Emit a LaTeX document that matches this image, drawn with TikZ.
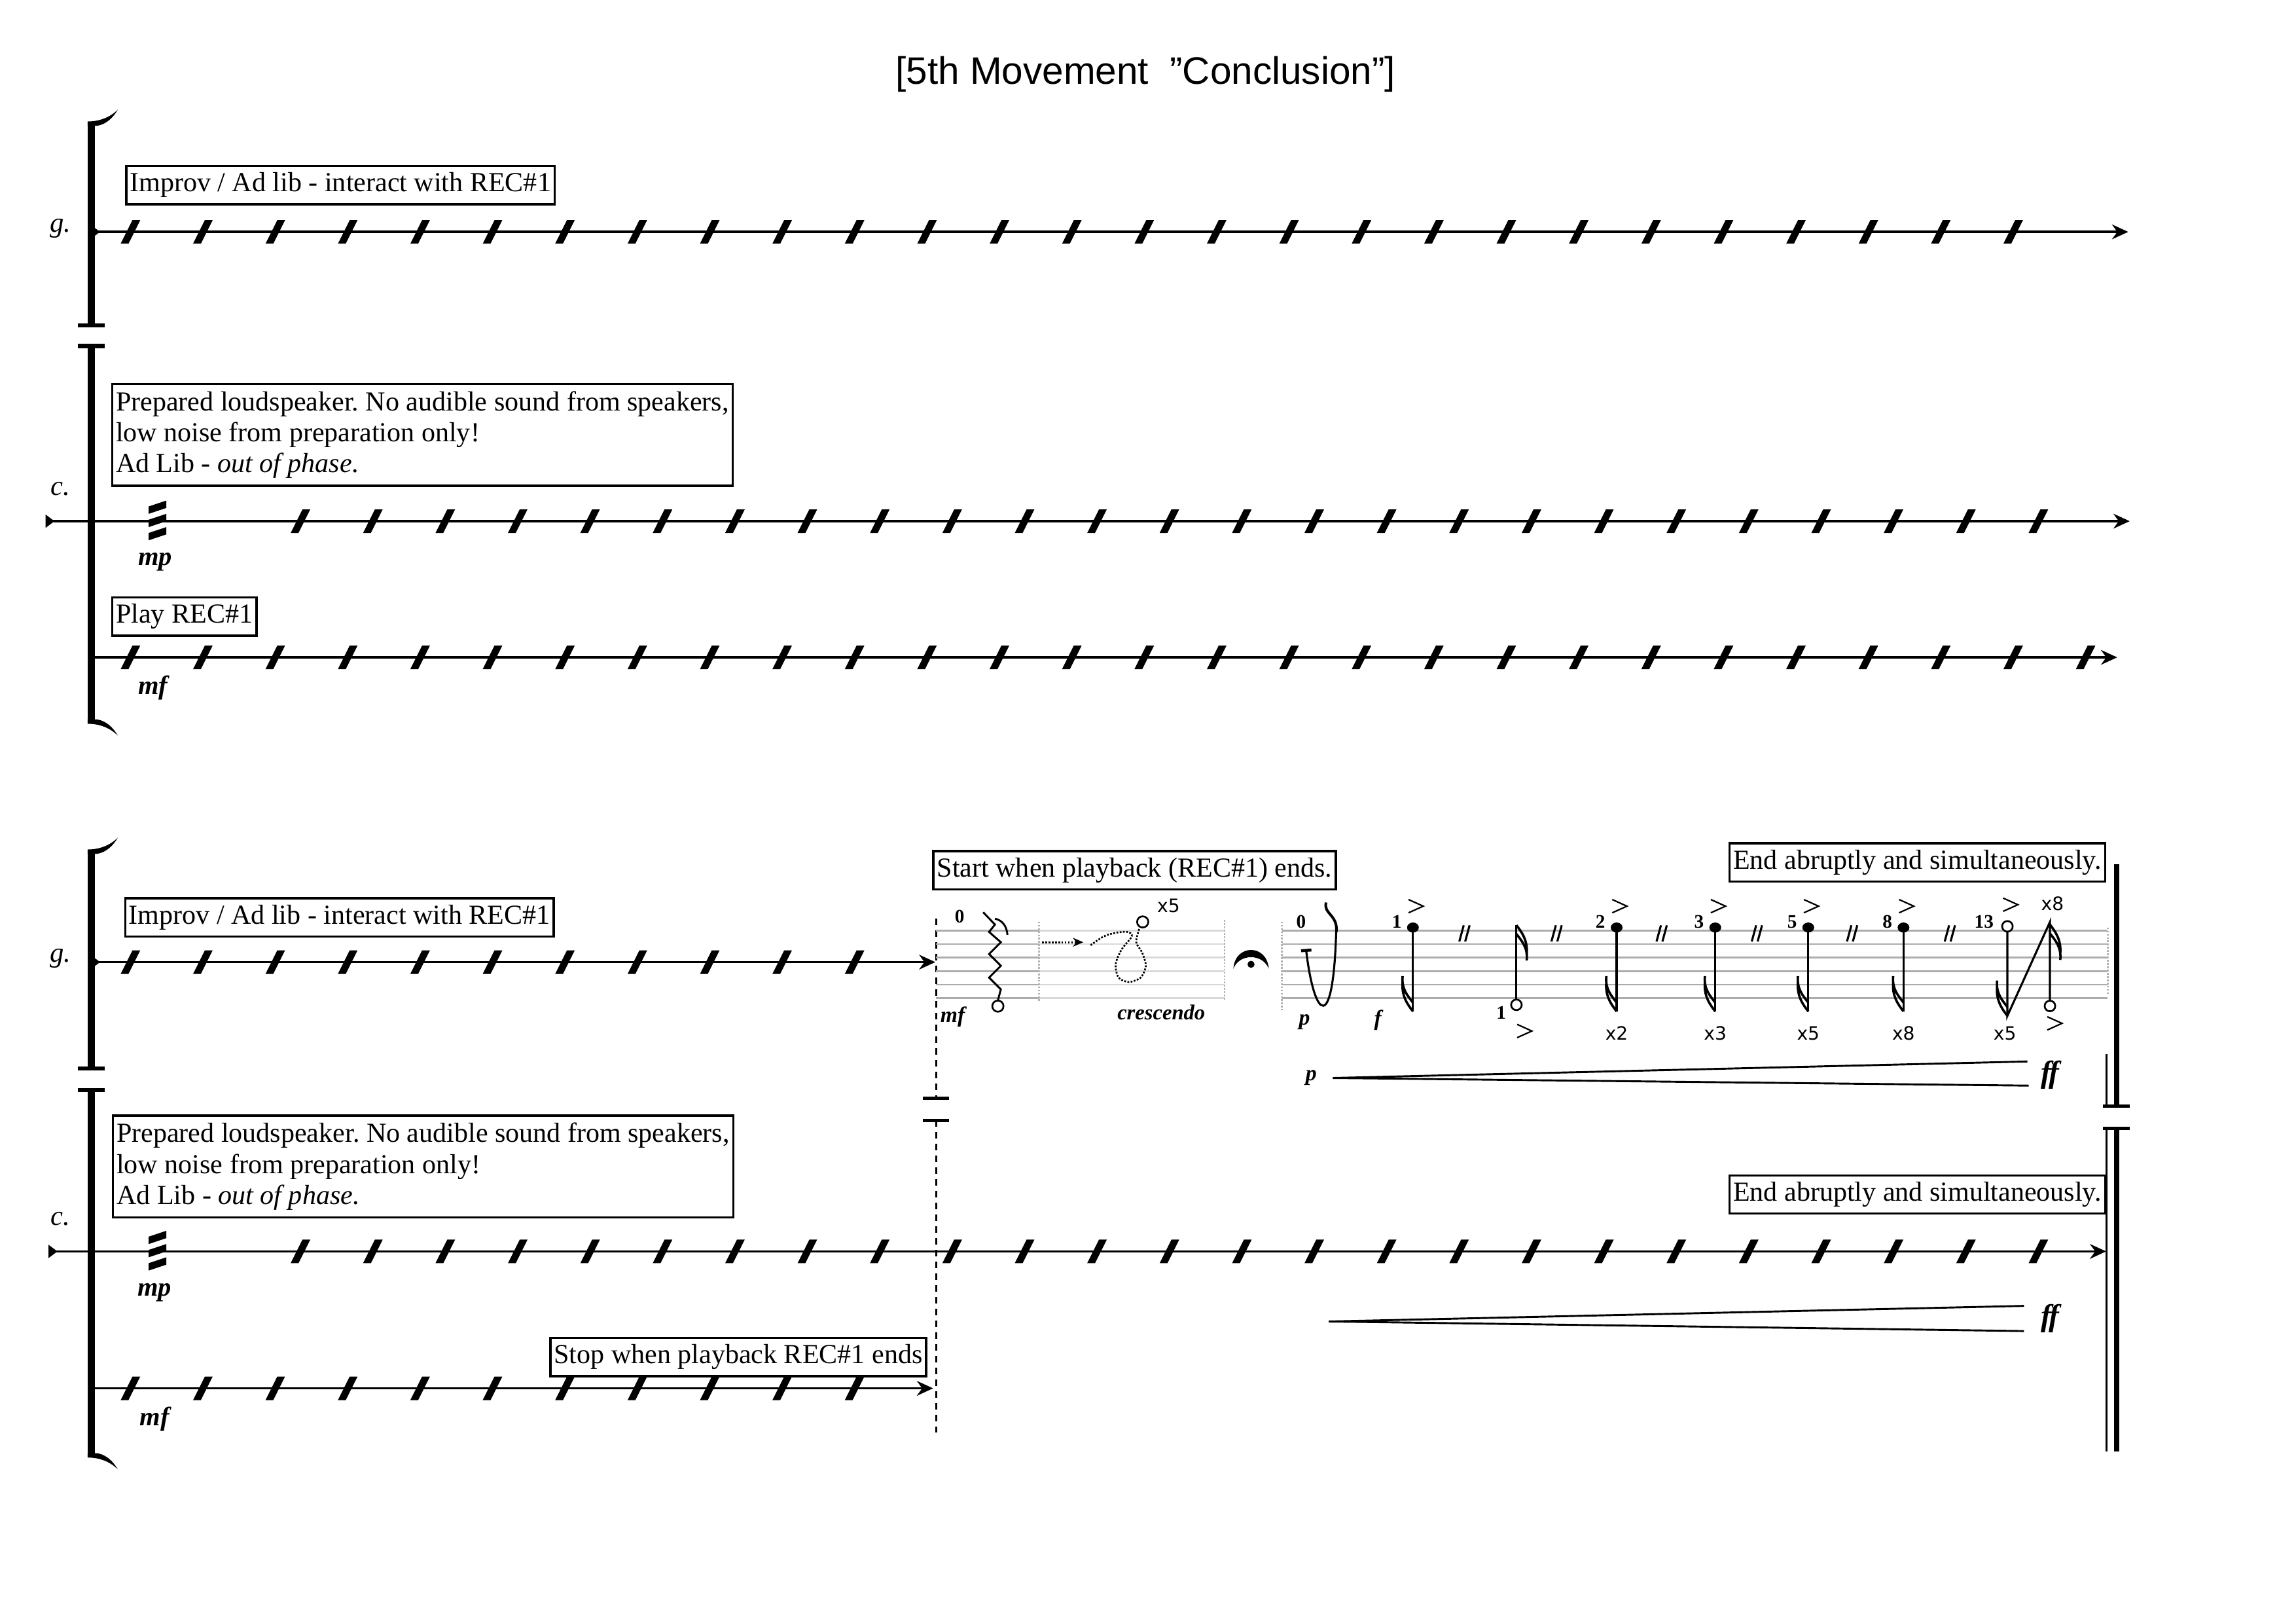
\documentclass[tikz,border=0pt]{standalone}
\usepackage{fontspec}
\setmainfont{Liberation Serif}
\newfontfamily\titlefont{Liberation Sans}
\newfontfamily\countfont{DejaVu Sans}
\usetikzlibrary{arrows.meta}
\frenchspacing

\tikzset{
	staffline/.style={line width=1.6pt},
	endarrow/.style={-{Stealth[length=11pt,width=10pt]}},
	bracketline/.style={line width=5pt},
	syncline/.style={line width=1.5pt, dash pattern=on 4.5pt off 3.5pt},
	gstave/.style={line width=1.2pt, gray!65},
	barmark/.style={line width=1.2pt, densely dotted, gray!60},
	notestem/.style={line width=1.4pt},
	openhead/.style={line width=1.2pt, fill=white},
	textbox/.style={draw, line width=1.5pt, inner xsep=2.5pt, inner ysep=4pt, text height=13.5pt, text depth=4.5pt, font=\fontsize{18.7}{21}\selectfont},
	longbox/.style={draw, line width=1.5pt, inner xsep=2.5pt, inner ysep=5pt, align=left, font=\fontsize{18.7}{21}\selectfont},
	instr/.style={font=\fontsize{19}{19}\selectfont\itshape},
	dyn/.style={font=\fontsize{18}{18}\selectfont\bfseries\itshape},
	smalldyn/.style={font=\fontsize{15}{15}\selectfont\bfseries\itshape},
	bigdyn/.style={font=\fontsize{21}{21}\selectfont\bfseries\itshape},
	count/.style={font=\fontsize{13}{13}\selectfont\bfseries, inner sep=0pt},
	repeats/.style={font=\countfont\fontsize{12.5}{12.5}\selectfont, inner sep=0pt},
	pics/beatslash/.style={code={\fill (-6.5,8) -- (-1.2,8) -- (6.8,-8) -- (1.5,-8) -- cycle;}},
	pics/tremolo/.style={code={\foreach \tb in {-9,0,9}{\fill (-6,\tb+4) -- (-6,\tb-1) -- (6,\tb-5) -- (6,\tb) -- cycle;}}},
	pics/starttip/.style={code={\fill (0,-4.5) -- (6,0) -- (0,4.5) -- cycle;}},
	pics/hooktop/.style={code={\fill (-2.5,1) -- (-2.5,-2) .. controls (6,-2) and (13,-5) .. (18,-10) .. controls (14,-3) and (8,1) .. (2.5,1) -- cycle;}},
	pics/hookbot/.style={code={\fill (-2.5,-1) -- (-2.5,2) .. controls (6,2) and (13,5) .. (18,10) .. controls (14,3) and (8,-1) .. (2.5,-1) -- cycle;}},
	pics/serif/.style={code={\draw[line width=3pt] (-9,0) -- (9,0);}},
	pics/accentmark/.style={code={\draw[line width=1pt] (-5,-4.5) -- (5,0) -- (-5,4.5);}},
	pics/flagdown/.style={code={\draw[line width=1.6pt] (0,0) .. controls (-3,-4) and (-8,-10) .. (-7,-20) (0,-6) .. controls (-3,-10) and (-8,-15) .. (-7,-24);}},
	pics/flagup/.style={code={\draw[line width=1.6pt] (0,0) .. controls (3,4) and (8,10) .. (7,20) (0,6) .. controls (3,10) and (8,15) .. (7,24);}},
}

\begin{document}
\begin{tikzpicture}[x=1pt,y=-1pt]
%page
	\useasboundingbox (0,0) rectangle (1560,1102.4);

%title
	\node[font=\titlefont\fontsize{26}{26}\selectfont, anchor=base] (title) at (778.3,57) {[5th Movement~~”Conclusion”]};

%define coordinates
	\coordinate (gA0) at (62,157.5);
	\coordinate (gA1) at (1446,157.5);
	\coordinate (cA0) at (31,354);
	\coordinate (cA1) at (1447,354);
	\coordinate (pA0) at (62,446.5);
	\coordinate (pA1) at (1438.5,446.5);
	\coordinate (gB0) at (62,653.5);
	\coordinate (gB1) at (635.5,653.5);
	\coordinate (cB0) at (33,850);
	\coordinate (cB1) at (1431,850);
	\coordinate (sB0) at (62,943);
	\coordinate (sB1) at (634,943);

%draw brackets
	\draw[bracketline] (62,84.5) -- (62,221);
	\draw[bracketline] (62,235) -- (62,489.6);
	\draw[bracketline] (62,579) -- (62,725.7);
	\draw[bracketline] (62,740.4) -- (62,988);
	\pic at (62,84.5) {hooktop};
	\pic at (62,221) {serif};
	\pic at (62,235) {serif};
	\pic at (62,489.6) {hookbot};
	\pic at (62,579) {hooktop};
	\pic at (62,725.7) {serif};
	\pic at (62,740.4) {serif};
	\pic at (62,988) {hookbot};

%instrument names
	\node[instr] (gOne) at (41,155) {g.};
	\node[instr] (cOne) at (41,332) {c.};
	\node[instr] (gTwo) at (41,651) {g.};
	\node[instr] (cTwo) at (41,828) {c.};

%draw staff lines
	\draw[staffline, endarrow] (gA0) -- (gA1);
	\draw[staffline, endarrow] (cA0) -- (cA1);
	\draw[staffline, endarrow] (pA0) -- (pA1);
	\draw[staffline, endarrow] (gB0) -- (gB1);
	\draw[staffline, endarrow] (cB0) -- (cB1);
	\draw[staffline, endarrow] (sB0) -- (sB1);
	\pic at (gA0) {starttip};
	\pic at (cA0) {starttip};
	\pic at (gB0) {starttip};
	\pic at (cB0) {starttip};

%draw slashes
	\foreach \k in {0,...,26} \pic at ({88.5+49.2*\k},157.5) {beatslash};
	\foreach \k in {0,...,24} \pic at ({204+49.2*\k},354) {beatslash};
	\foreach \k in {0,...,27} \pic at ({88.5+49.2*\k},446.5) {beatslash};
	\foreach \k in {0,...,10} \pic at ({88.5+49.2*\k},653.5) {beatslash};
	\foreach \k in {0,...,24} \pic at ({204+49.2*\k},850) {beatslash};
	\foreach \k in {0,...,10} \pic at ({88.5+49.2*\k},943) {beatslash};
	\pic at (107,354) {tremolo};
	\pic at (107,850) {tremolo};

%dynamics
	\node[dyn] (mpOne) at (105.5,381.6) {mp};
	\node[dyn] (mfOne) at (104,467.3) {mf};
	\node[dyn] (mpTwo) at (105,878) {mp};
	\node[dyn] (mfTwo) at (105,963.8) {mf};

%draw boxes
	\node[textbox, anchor=north west] (impOne) at (85,112) {Improv / Ad lib - interact with REC\#1};
	\node[longbox, anchor=north west] (prepOne) at (75.5,260) {Prepared loudspeaker. No audible sound from speakers,\\low noise from preparation only!\\Ad Lib - \textit{out of phase.}};
	\node[textbox, anchor=north west] (playOne) at (75.5,405) {Play REC\#1};
	\node[textbox, anchor=north west] (impTwo) at (84.3,609.4) {Improv / Ad lib - interact with REC\#1};
	\node[longbox, anchor=north west] (prepTwo) at (76,757) {Prepared loudspeaker. No audible sound from speakers,\\low noise from preparation only!\\Ad Lib - \textit{out of phase.}};
	\node[textbox, anchor=north east] (stopTwo) at (630,908) {Stop when playback REC\#1 ends};
	\node[textbox, anchor=north west] (startTwo) at (633.4,577.3) {Start when playback (REC\#1) ends.};
	\node[textbox, anchor=north east] (endG) at (1431,572) {End abruptly and simultaneously.};
	\node[textbox, anchor=north east] (endC) at (1431,797.6) {End abruptly and simultaneously.};

%sync line
	\draw[syncline] (636,624) -- (636,746);
	\draw[syncline] (636,761) -- (636,973);
	\draw[line width=2.2pt] (627,746) -- (645,746);
	\draw[line width=2.2pt] (627,761) -- (645,761);

%final barline
	\draw[line width=3.6pt] (1438,587) -- (1438,751.5);
	\draw[line width=1.2pt] (1431.2,716) -- (1431.2,751.5);
	\draw[line width=2.2pt] (1429,751.5) -- (1447,751.5);
	\draw[line width=2.2pt] (1429,766.3) -- (1447,766.3);
	\draw[line width=3.6pt] (1438,766.3) -- (1438,986);
	\draw[line width=1.2pt] (1431.2,766.3) -- (1431.2,986);

%graphic staff
	\foreach \l in {0,...,5}{
		\draw[gstave] (636,{632+9.2*\l}) -- (706,{632+9.2*\l});
		\draw[gstave, gray!30] (706,{632+9.2*\l}) -- (832,{632+9.2*\l});
		\draw[gstave] (871,{632+9.2*\l}) -- (1432,{632+9.2*\l});
	}
	\draw[barmark] (706,626) -- (706,680);
	\draw[barmark] (832,625) -- (832,680);
	\draw[barmark] (871,626) -- (871,686);
	\draw[barmark] (1432,630) -- (1432,676);

%first gesture
	\node[count] (zeroA) at (652,622.5) {0};
	\draw[line width=1.3pt] (668,619.6) -- (676,628) -- (672,633) -- (680,640) -- (672,648) -- (680,656) -- (672,664) -- (680,672) -- (678,679.5);
	\draw[line width=1.3pt] (676,624) .. controls (681,625) and (684,629) .. (684.5,635);
	\draw[openhead] (678,683.4) circle (3.8);
	\node[smalldyn] (mfThree) at (647.3,690.6) {mf};
	\coordinate (dotA) at (708,640);
	\coordinate (dotB) at (736,640);
	\draw[line width=1.2pt, densely dotted, -{Stealth[length=7pt,width=6pt]}] (dotA) -- (dotB);
	\draw[line width=1.2pt, densely dotted] plot[smooth] coordinates {(741,642) (750,636) (758,633.6) (766,633) (769,636) (762,645) (758,655) (760,664) (767,667) (775,664) (778.5,656) (776,647) (772,640) (774,631)};
	\draw[openhead] (776.4,626.2) circle (3.8);
	\node[repeats] (repLoop) at (794,615) {x5};
	\node[font=\fontsize{14.5}{14.5}\selectfont\bfseries\itshape] (cresc) at (789,687.7) {crescendo};

%fermata
	\fill (838,658) .. controls (839,641) and (861,641) .. (862,658) .. controls (858,647.5) and (842,647.5) .. cycle;
	\fill (850,655) circle (2.4);

%second gesture
	\node[count] (zeroB) at (884,626) {0};
	\draw[line width=2pt] (884,645.8) -- (891,645.3);
	\draw[line width=1.4pt] (887.5,646) .. controls (893,692) and (906,704) .. (907.9,631);
	\draw[line width=1.8pt] (901,613) .. controls (899,621) and (909,621) .. (908,633);
	\node[smalldyn] (pStaff) at (886.3,694.4) {p};
	\node[smalldyn] (fStaff) at (936.2,692.8) {f};

%draw notes
	\foreach \nx/\nnum in {960/1,1098.4/2,1165.4/3,1228.6/5,1293.3/8}{
		\fill (\nx,630) ellipse (4 and 3.4);
		\draw[notestem] (\nx,630) -- (\nx,687);
		\pic at (\nx,687) {flagdown};
		\pic at (\nx+2,615.5) {accentmark};
		\node[count] (cnt\nnum) at (\nx-11,626) {\nnum};
	}
	\foreach \nx/\nrep in {1098.4/2,1165.4/3,1228.6/5,1293.3/8}
		\node[repeats] (rep\nrep) at (\nx,701.8) {x\nrep};
	\foreach \sx in {995,1057.6,1129,1193.7,1258.4,1324.8}
		\draw[line width=1.4pt] (\sx-3.5,639.5) -- (\sx-0.5,628.5) (\sx+0.5,639.5) -- (\sx+3.5,628.5);

	\draw[notestem] (1030.3,628.4) -- (1030.3,679);
	\draw[openhead] (1030.3,682.5) circle (3.6);
	\pic at (1030.3,628.4) {flagup};
	\pic at (1035.8,700.3) {accentmark};
	\node[count] (cntLow) at (1020,687.7) {1};

	\draw[openhead] (1363.9,629.2) circle (3.6);
	\draw[notestem] (1363.9,632.8) -- (1363.9,690) -- (1392.8,626.2) -- (1392.8,679.5);
	\draw[openhead] (1392.8,683.3) circle (3.6);
	\pic at (1363.9,690) {flagdown};
	\pic at (1392.8,628) {flagup};
	\pic at (1366,614.5) {accentmark};
	\pic at (1396,695.1) {accentmark};
	\node[count] (cnt13) at (1348,626.2) {13};
	\node[repeats] (repLast) at (1362.2,701.8) {x5};
	\node[repeats] (repTop) at (1394.5,613.6) {x8};

%hairpins
	\coordinate (hpG) at (905.6,732.2);
	\coordinate (hpGu) at (1377.5,721);
	\coordinate (hpGl) at (1378.4,737.4);
	\draw[line width=1.3pt] (hpGu) -- (hpG) -- (hpGl);
	\node[smalldyn] (pHair) at (890.9,732.2) {p};
	\node[bigdyn] (ffG) at (1393,730) {f\kern-1.5pt f};
	\coordinate (hpC) at (902.8,897.6);
	\coordinate (hpCu) at (1375.2,887);
	\coordinate (hpCl) at (1375.2,904.1);
	\draw[line width=1.3pt] (hpCu) -- (hpC) -- (hpCl);
	\node[bigdyn] (ffC) at (1393,895.5) {f\kern-1.5pt f};

\end{tikzpicture}
\end{document}
